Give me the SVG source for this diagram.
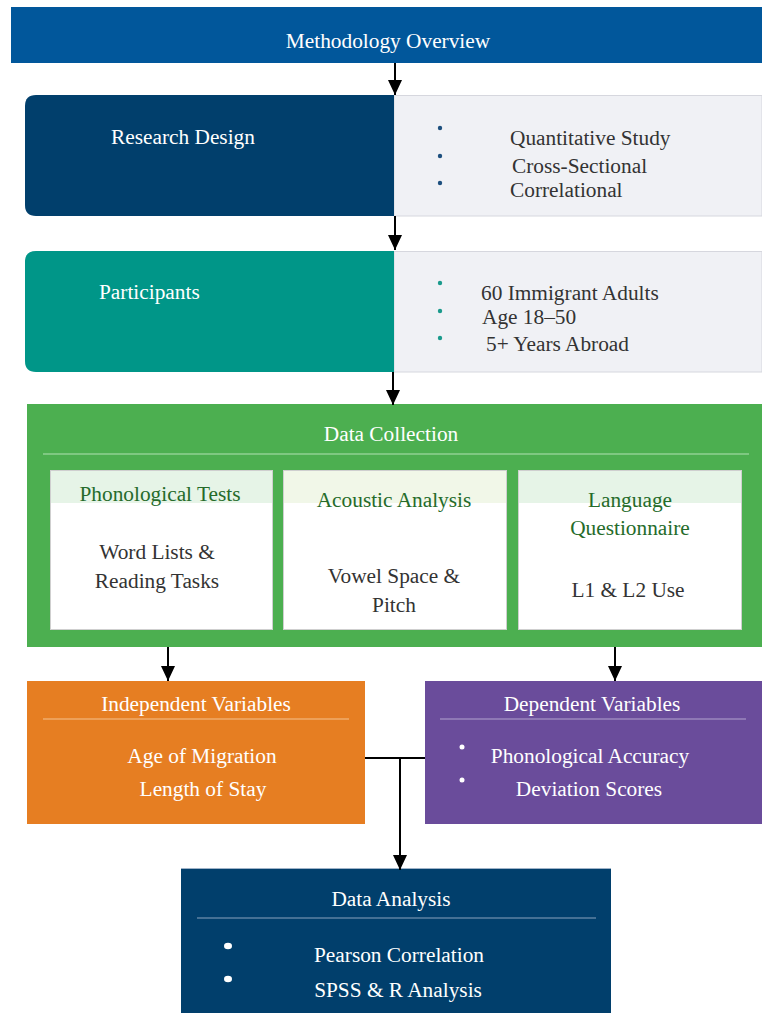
<svg xmlns="http://www.w3.org/2000/svg" width="762" height="1013" viewBox="0 0 762 1013" font-family="'Liberation Serif', 'DejaVu Serif', serif">
<defs>
<marker id="ah" markerWidth="15" markerHeight="14" refX="15" refY="7" orient="auto" markerUnits="userSpaceOnUse" viewBox="0 0 15 14">
<path d="M0,0 L15,7 L0,14 Z" fill="#000"/>
</marker>
<style>
text{font-family:'Liberation Serif','DejaVu Serif',serif;font-size:21.33px}
.w{fill:#ffffff}
.d{fill:#333333}
.g{fill:#256b2a}
.c{text-anchor:middle}
.panel{fill:#f0f1f5;stroke:#d6d7de;stroke-width:1}
.ibox{fill:#ffffff;stroke:#cfcfcf;stroke-width:1}
.conn{stroke:#000;stroke-width:2;fill:none}
</style>
</defs>
<rect width="762" height="1013" fill="#ffffff"/>

<g id="header">
<rect x="11" y="7" width="751" height="56" fill="#01579b"/>
<text x="388" y="48" class="w c">Methodology Overview</text>
</g>

<g id="research-design">
<rect x="394" y="95.5" width="368" height="120.5" class="panel"/>
<path d="M394,95 L36,95 Q25,95 25,106 L25,205 Q25,216 36,216 L394,216 Z" fill="#013f6c"/>
<text x="111" y="144" class="w">Research Design</text>
<circle cx="440" cy="128" r="2.2" fill="#1d4f7e"/>
<circle cx="440" cy="156" r="2.2" fill="#1d4f7e"/>
<circle cx="440" cy="183" r="2.2" fill="#1d4f7e"/>
<text x="510" y="145" class="d">Quantitative Study</text>
<text x="512" y="173" class="d">Cross-Sectional</text>
<text x="510" y="197" class="d">Correlational</text>
</g>

<g id="participants">
<rect x="394" y="251.5" width="368" height="120.5" class="panel"/>
<path d="M394,251 L36,251 Q25,251 25,262 L25,361 Q25,372 36,372 L394,372 Z" fill="#009688"/>
<text x="99" y="299" class="w">Participants</text>
<circle cx="440" cy="283" r="2.2" fill="#1a9a8c"/>
<circle cx="440" cy="311" r="2.2" fill="#1a9a8c"/>
<circle cx="440" cy="338" r="2.2" fill="#1a9a8c"/>
<text x="481" y="300" class="d">60 Immigrant Adults</text>
<text x="482" y="324" class="d">Age 18–50</text>
<text x="486" y="351" class="d">5+ Years Abroad</text>
</g>

<g id="data-collection">
<rect x="27" y="404" width="735" height="243" fill="#4caf50"/>
<text x="391" y="441" class="w c">Data Collection</text>
<line x1="43" y1="454" x2="749" y2="454" stroke="#8fd092" stroke-width="1.5"/>
</g>

<g id="phonological-tests">
<rect x="50.5" y="470.5" width="222" height="159" class="ibox"/>
<rect x="51" y="471" width="221" height="32" fill="#e6f4e7"/>
<text x="160" y="501" class="g c">Phonological Tests</text>
<text x="157" y="559" class="d c">Word Lists &amp;</text>
<text x="157" y="588" class="d c">Reading Tasks</text>
</g>

<g id="acoustic-analysis">
<rect x="283.5" y="470.5" width="223" height="159" class="ibox"/>
<rect x="284" y="471" width="222" height="32" fill="#f1f7e8"/>
<text x="394" y="507" class="g c">Acoustic Analysis</text>
<text x="394" y="583" class="d c">Vowel Space &amp;</text>
<text x="394" y="612" class="d c">Pitch</text>
</g>

<g id="language-questionnaire">
<rect x="518.5" y="470.5" width="223" height="159" class="ibox"/>
<rect x="519" y="471" width="222" height="32" fill="#e6f4e7"/>
<text x="630" y="507" class="g c">Language</text>
<text x="630" y="535" class="g c">Questionnaire</text>
<text x="628" y="597" class="d c">L1 &amp; L2 Use</text>
</g>

<g id="independent-variables">
<rect x="27" y="681" width="338" height="143" fill="#e67e22"/>
<text x="196" y="711" class="w c">Independent Variables</text>
<line x1="43" y1="719" x2="349" y2="719" stroke="#f5c28e" stroke-width="1"/>
<text x="202" y="763" class="w c">Age of Migration</text>
<text x="203" y="796" class="w c">Length of Stay</text>
</g>

<g id="dependent-variables">
<rect x="425" y="681" width="337" height="143" fill="#6a4c9b"/>
<text x="592" y="711" class="w c">Dependent Variables</text>
<line x1="440" y1="719" x2="746" y2="719" stroke="#b3a4cf" stroke-width="1"/>
<circle cx="462" cy="747" r="2.5" fill="#ffffff"/>
<circle cx="462" cy="780" r="2.5" fill="#ffffff"/>
<text x="590" y="763" class="w c">Phonological Accuracy</text>
<text x="589" y="796" class="w c">Deviation Scores</text>
</g>

<g id="data-analysis">
<rect x="181" y="868" width="430" height="145" fill="#013f6c"/>
<line x1="181" y1="868.5" x2="611" y2="868.5" stroke="#9fb3c8" stroke-width="1"/>
<text x="391" y="906" class="w c">Data Analysis</text>
<line x1="197" y1="918" x2="596" y2="918" stroke="#8aa3bd" stroke-width="1"/>
<ellipse cx="228" cy="946" rx="4" ry="3.2" fill="#ffffff"/>
<ellipse cx="228" cy="979" rx="4" ry="3.2" fill="#ffffff"/>
<text x="399" y="962" class="w c">Pearson Correlation</text>
<text x="398" y="997" class="w c">SPSS &amp; R Analysis</text>
</g>

<g id="connectors">
<line x1="395" y1="63" x2="395" y2="95" class="conn" marker-end="url(#ah)"/>
<line x1="395" y1="216" x2="395" y2="250" class="conn" marker-end="url(#ah)"/>
<line x1="393" y1="372" x2="393" y2="405" class="conn" marker-end="url(#ah)"/>
<line x1="168" y1="647" x2="168" y2="681" class="conn" marker-end="url(#ah)"/>
<line x1="615" y1="647" x2="615" y2="681" class="conn" marker-end="url(#ah)"/>
<line x1="365" y1="758" x2="425" y2="758" class="conn"/>
<line x1="400" y1="758" x2="400" y2="870" class="conn" marker-end="url(#ah)"/>
</g>
</svg>
